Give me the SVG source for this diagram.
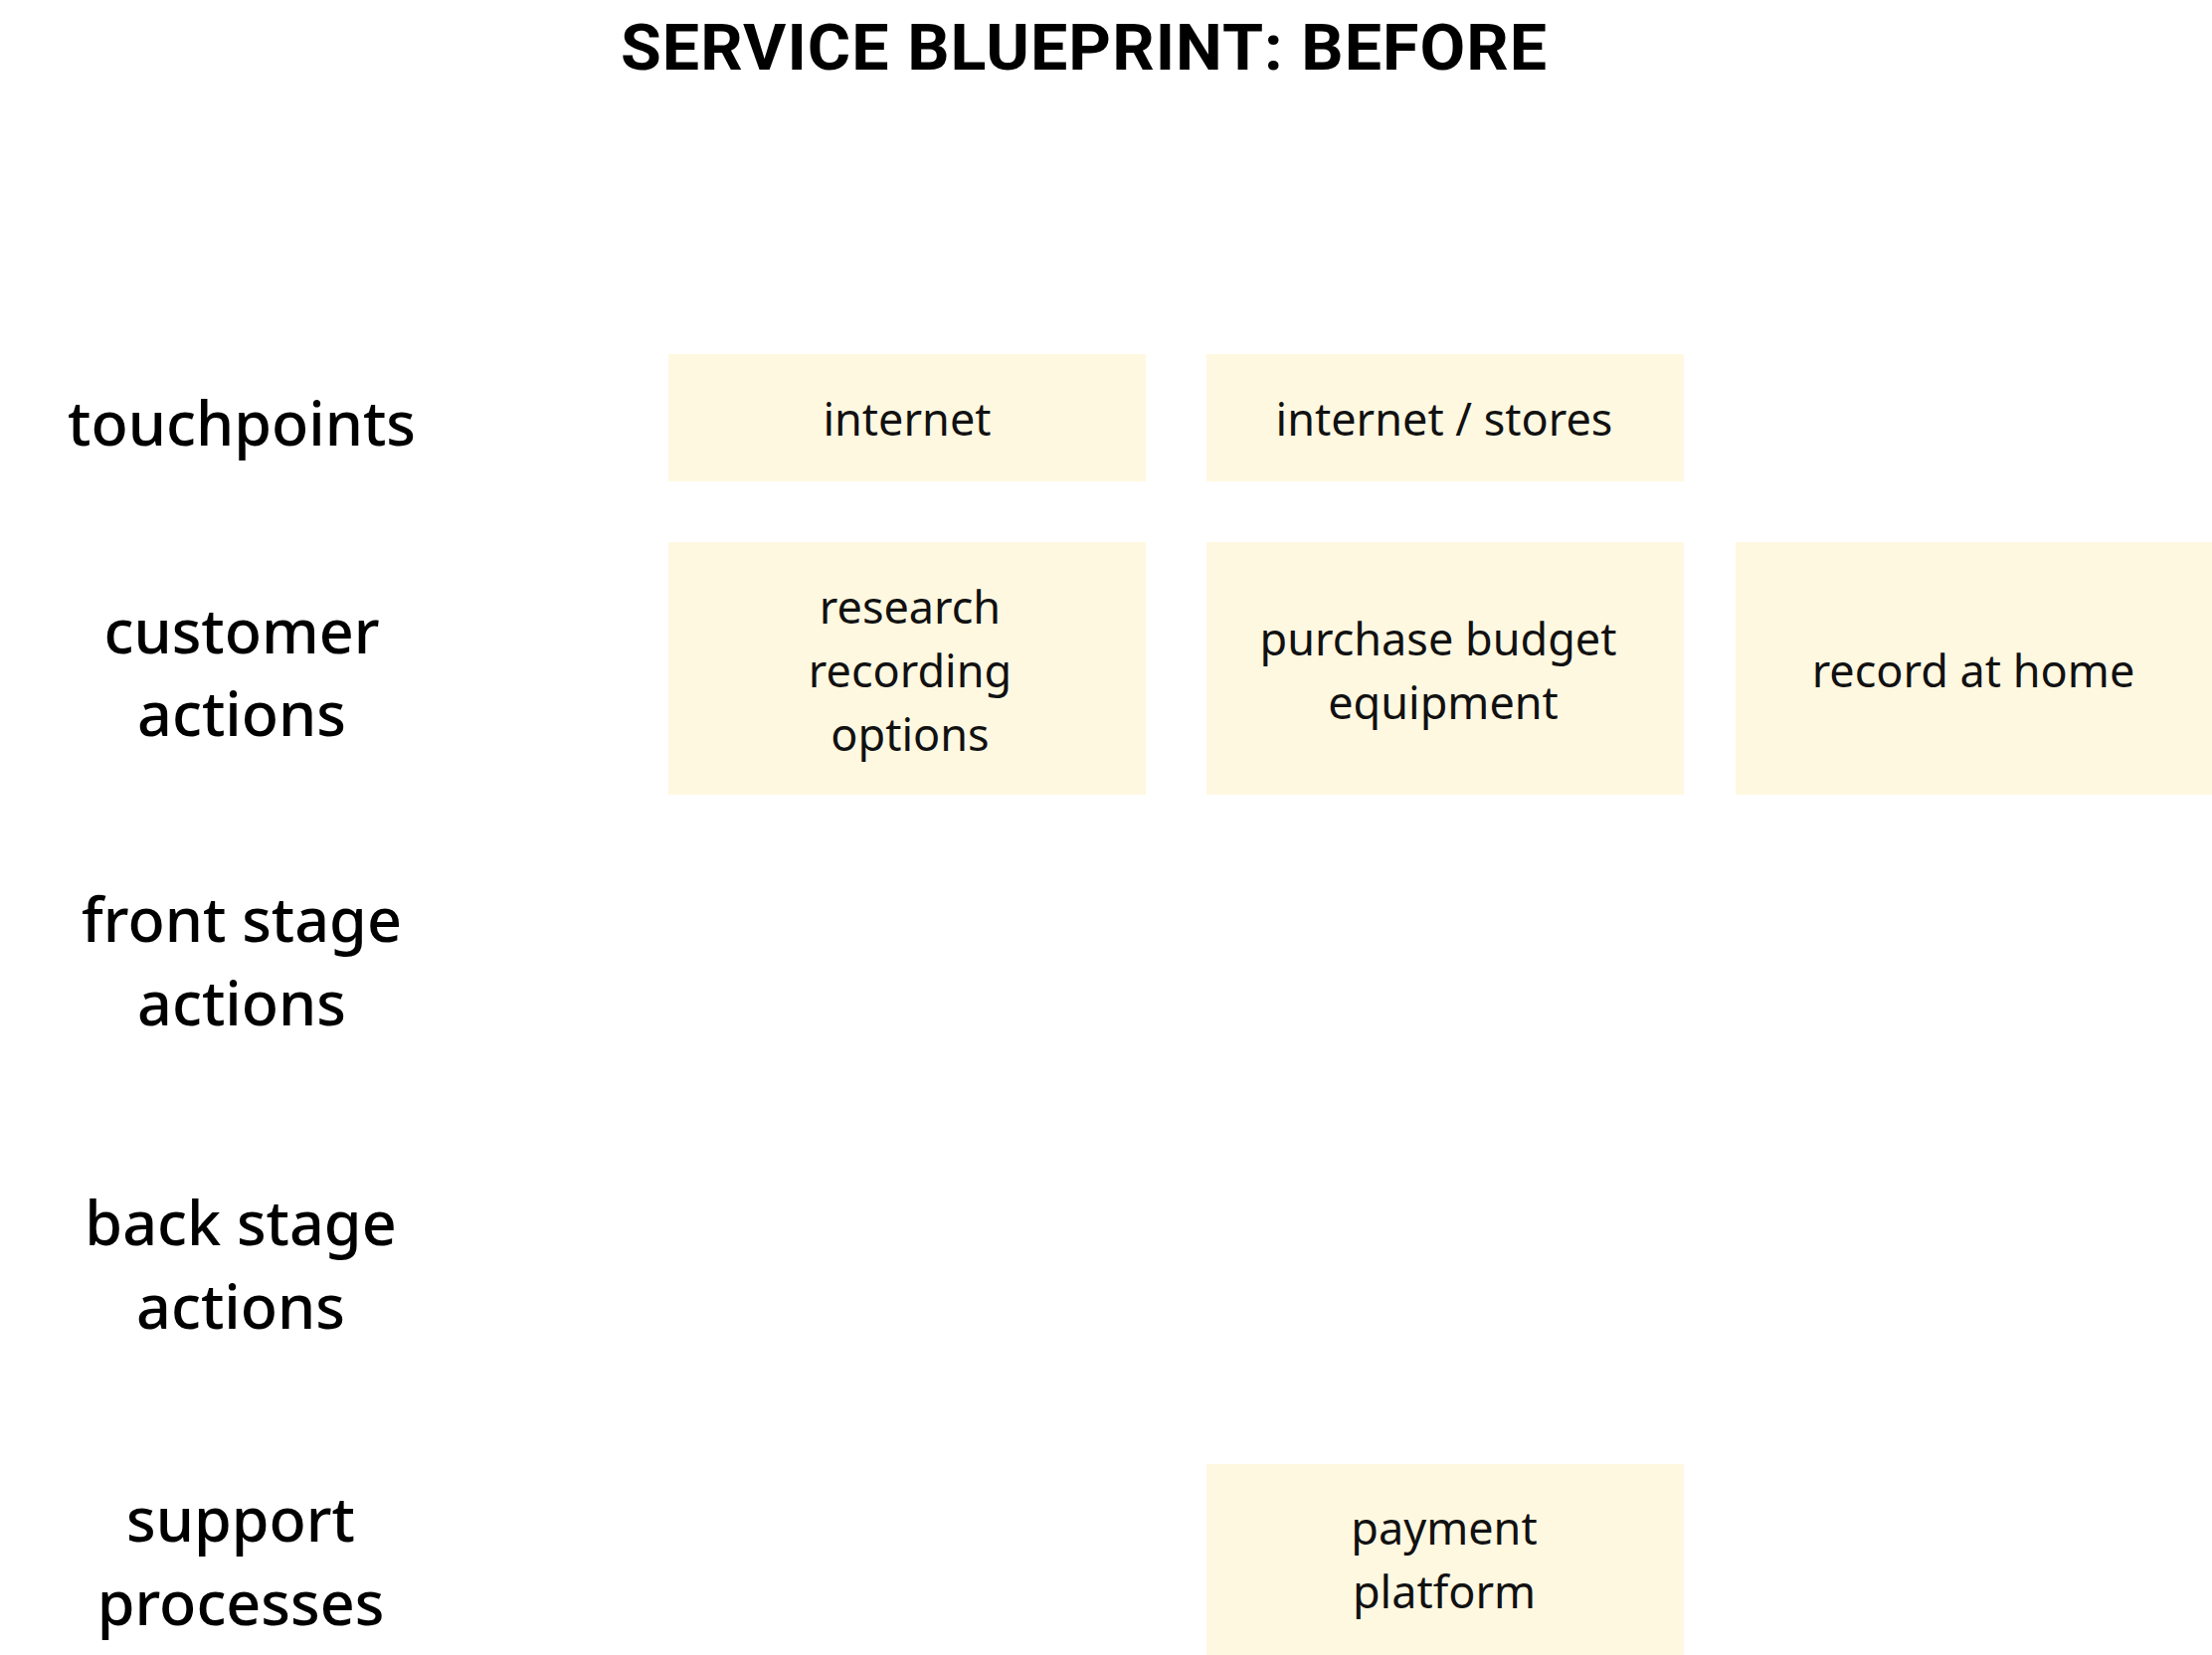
<svg xmlns="http://www.w3.org/2000/svg" width="2224" height="1664" viewBox="0 0 2224 1664">
<style>
.bg{fill:#ffffff}
.box{fill:#FFF8E1}
.t{font-family:"Noto Sans","Open Sans","Liberation Sans",sans-serif;font-size:45px;fill:#111;text-anchor:middle}
.lab{font-family:"Noto Sans","Open Sans","Liberation Sans",sans-serif;font-size:61px;font-weight:500;fill:#000;text-anchor:middle}
.title{font-family:"Roboto","Liberation Sans",sans-serif;font-size:64px;font-weight:700;fill:#000;text-anchor:middle;letter-spacing:1px}
</style>
<rect class="bg" x="0" y="0" width="2224" height="1664"/>
<text class="title" x="1090" y="70" textLength="932" lengthAdjust="spacingAndGlyphs">SERVICE BLUEPRINT: BEFORE</text>
<g id="lane-labels">
<text class="lab" x="243" y="448">touchpoints</text>
<text class="lab" x="243" y="657">customer</text>
<text class="lab" x="243" y="740">actions</text>
<text class="lab" x="243" y="947">front stage</text>
<text class="lab" x="243" y="1031">actions</text>
<text class="lab" x="242" y="1252">back stage</text>
<text class="lab" x="242" y="1336">actions</text>
<text class="lab" x="242" y="1550">support</text>
<text class="lab" x="242" y="1634">processes</text>
</g>
<g id="node-internet">
<rect class="box" x="672" y="356" width="480" height="128"/>
<text class="t" x="912" y="438">internet</text>
</g>
<g id="node-internet-stores">
<rect class="box" x="1213" y="356" width="480" height="128"/>
<text class="t" x="1452" y="438">internet / stores</text>
</g>
<g id="node-research">
<rect class="box" x="672" y="545" width="480" height="254"/>
<text class="t" x="915" y="627">research</text>
<text class="t" x="915" y="691">recording</text>
<text class="t" x="915" y="755">options</text>
</g>
<g id="node-purchase">
<rect class="box" x="1213" y="545" width="480" height="254"/>
<text class="t" x="1446" y="659">purchase budget</text>
<text class="t" x="1451" y="723">equipment</text>
</g>
<g id="node-record">
<rect class="box" x="1745" y="545" width="480" height="254"/>
<text class="t" x="1984" y="691">record at home</text>
</g>
<g id="node-payment">
<rect class="box" x="1213" y="1472" width="480" height="200"/>
<text class="t" x="1452" y="1553">payment</text>
<text class="t" x="1452" y="1617">platform</text>
</g>
<g id="connectors"></g>
</svg>
